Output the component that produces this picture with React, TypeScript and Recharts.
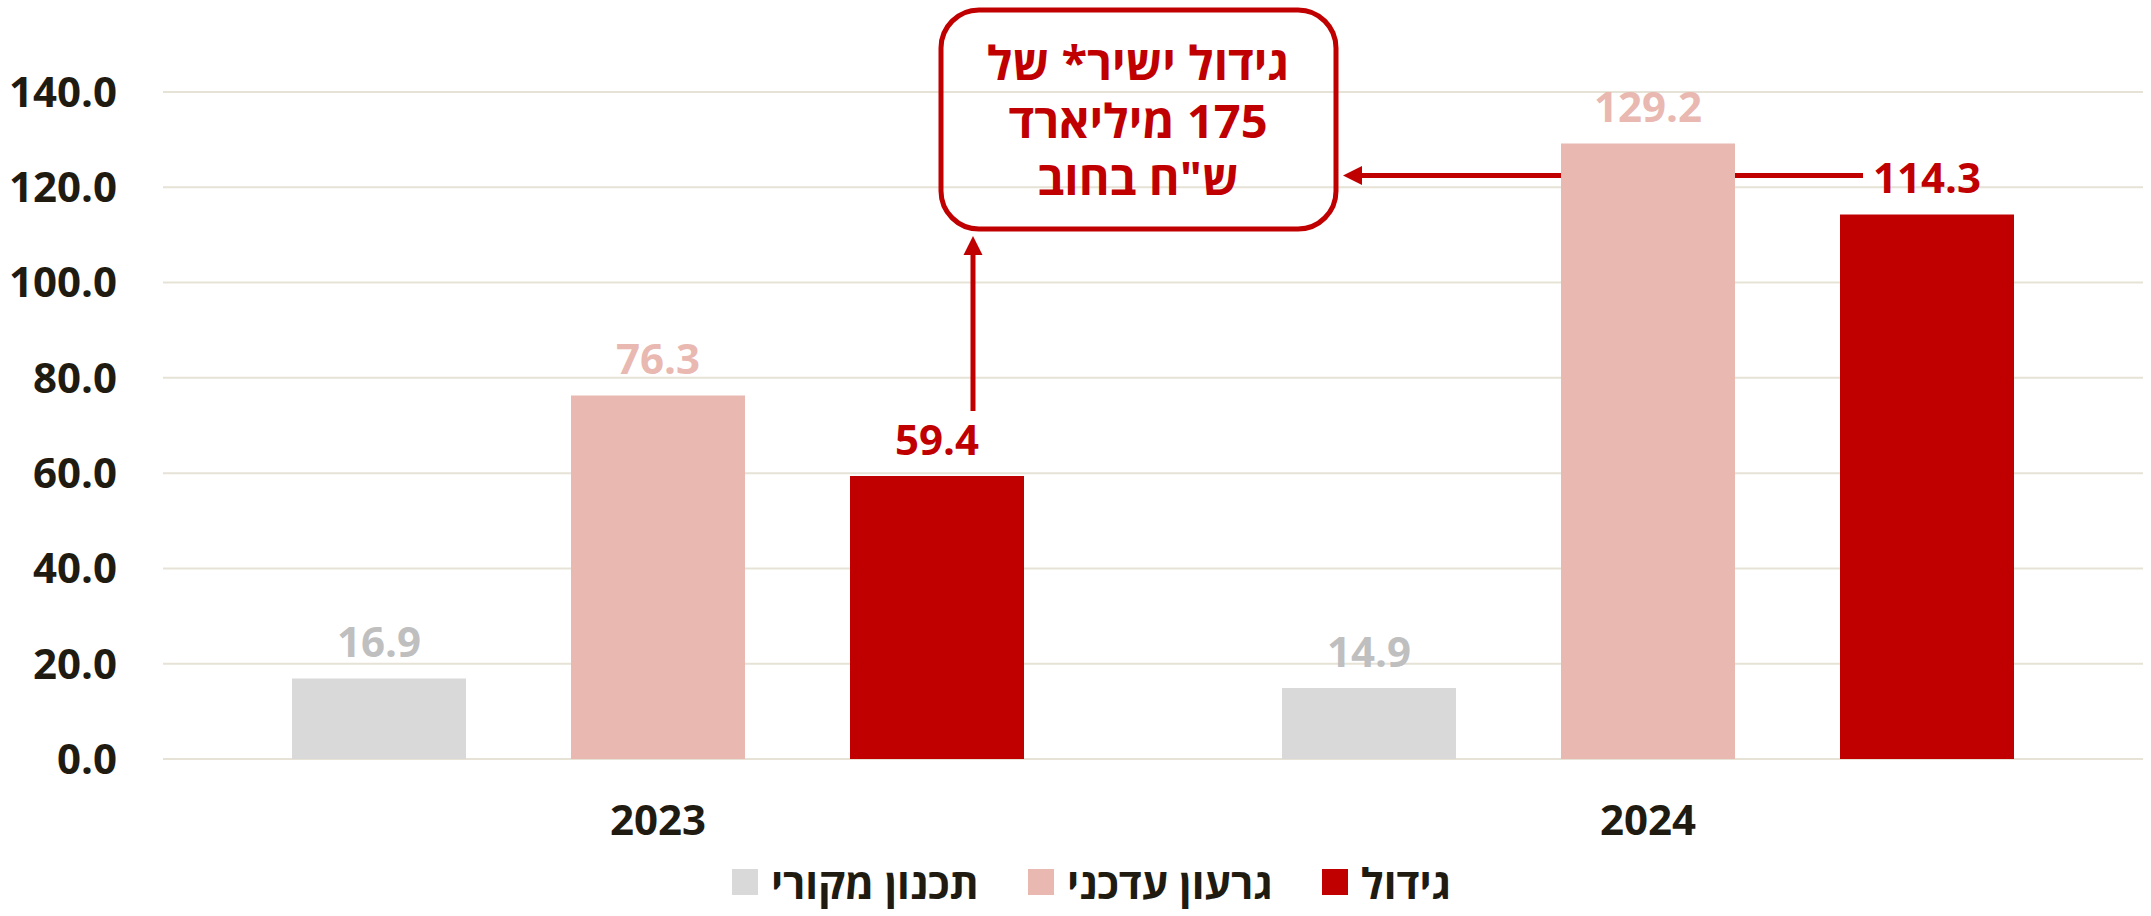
import React from 'react';
import { BarChart, Bar, XAxis, YAxis, CartesianGrid, LabelList, Legend } from 'recharts';

// ---- data ----
const years = ['2023', '2024'];
const originalPlan = [16.9, 14.9];
const updatedDeficit = [76.3, 129.2];
const growth = [59.4, 114.3];
const yTicks = [0, 20, 40, 60, 80, 100, 120, 140];
const seriesNames = ['תכנון מקורי', 'גרעון עדכני', 'גידול'];
const annotationLines = ['גידול ישיר* של', '175 מיליארד', 'ש"ח בחוב'];

const data = years.map((y, i) => ({
  year: y,
  original: originalPlan[i],
  updated: updatedDeficit[i],
  growth: growth[i],
}));

// ---- styles ----
const FONT = "'Open Sans', 'Liberation Sans', 'DejaVu Sans', sans-serif";
const RED = '#C00000';
const PINK = '#E8B8B1';
const GREY = '#D9D9D9';
const GREY_LABEL = '#BFBFBF';
const DARK = '#1F1B10';
const GRID = '#E6E3D6';

const W = 2151;
const H = 916;

const fmt = (v: any) => Number(v).toFixed(1);

function Annotation() {
  return (
    <g>
      <rect x={941} y={10} width={395} height={219} rx={38} ry={38} fill="none" stroke={RED} strokeWidth={5} />
      {annotationLines.map((t, i) => (
        <text
          key={i}
          x={1138}
          y={80 + i * 57.5}
          textAnchor="middle"
          direction="rtl"
          fontFamily={FONT}
          fontWeight={700}
          fontSize={47}
          fill={RED}
        >
          {t}
        </text>
      ))}
      <line x1={1863} y1={175.5} x2={1358} y2={175.5} stroke={RED} strokeWidth={5} />
      <polygon points="1343,175.5 1362,166 1362,185" fill={RED} />
      <line x1={973} y1={411} x2={973} y2={252} stroke={RED} strokeWidth={5} />
      <polygon points="973,236 963.5,255 982.5,255" fill={RED} />
    </g>
  );
}

const renderLegend = (props: any) => {
  const payload = [...(props.payload || [])].sort(
    (a: any, b: any) => seriesNames.indexOf(a.value) - seriesNames.indexOf(b.value)
  );
  return (
    <div
      style={{
        height: 60,
        display: 'flex',
        justifyContent: 'center',
        alignItems: 'center',
        fontFamily: FONT,
        fontWeight: 700,
        fontSize: 42,
        color: DARK,
        paddingLeft: 40,
      }}
    >
      {payload.map((e: any, i: number) => (
        <div key={i} style={{ display: 'flex', alignItems: 'center', marginLeft: i ? 49 : 0 }}>
          <span style={{ display: 'inline-block', width: 26, height: 26, background: e.color, marginRight: 13 }} />
          <span style={{ direction: 'rtl' }}>{e.value}</span>
        </div>
      ))}
    </div>
  );
};

export default function App() {
  return (
    <div style={{ position: 'absolute', left: 0, top: 0, width: W, height: H, background: '#fff' }}>
      <BarChart
        width={W}
        height={H}
        data={data}
        margin={{ top: 92, right: 8, left: 0, bottom: 4 }}
        barSize={174}
        barGap={105}
      >
        <CartesianGrid vertical={false} stroke={GRID} strokeWidth={2} />
        <XAxis
          dataKey="year"
          axisLine={false}
          tickLine={false}
          tickSize={0}
          tickMargin={46}
          height={93}
          interval={0}
          tick={{ fontFamily: FONT, fontWeight: 700, fontSize: 42, fill: DARK }}
        />
        <YAxis
          domain={[0, 140]}
          ticks={yTicks}
          interval={0}
          axisLine={false}
          tickLine={false}
          tickSize={0}
          tickMargin={46}
          width={163}
          tickFormatter={fmt}
          tick={{ fontFamily: FONT, fontWeight: 700, fontSize: 42, fill: DARK }}
        />
        <Legend verticalAlign="bottom" height={60} content={renderLegend} />
        <Bar dataKey="original" name={seriesNames[0]} fill={GREY} isAnimationActive={false}>
          <LabelList
            dataKey="original"
            position="top"
            offset={21}
            formatter={fmt}
            fill={GREY_LABEL}
            style={{ fontFamily: FONT, fontWeight: 700, fontSize: 42 }}
          />
        </Bar>
        <Bar dataKey="updated" name={seriesNames[1]} fill={PINK} isAnimationActive={false}>
          <LabelList
            dataKey="updated"
            position="top"
            offset={21}
            formatter={fmt}
            fill={PINK}
            style={{ fontFamily: FONT, fontWeight: 700, fontSize: 42 }}
          />
        </Bar>
        <Bar dataKey="growth" name={seriesNames[2]} fill={RED} isAnimationActive={false}>
          <LabelList
            dataKey="growth"
            position="top"
            offset={21}
            formatter={fmt}
            fill={RED}
            style={{ fontFamily: FONT, fontWeight: 700, fontSize: 42 }}
          />
        </Bar>
        <Annotation />
      </BarChart>
    </div>
  );
}
